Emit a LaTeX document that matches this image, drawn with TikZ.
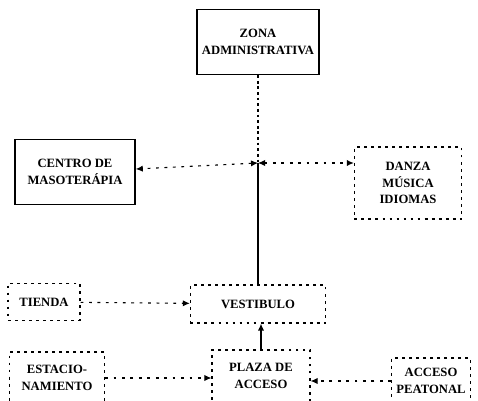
\documentclass[tikz,border=0pt]{standalone}
\usepackage{fontspec}
\setmainfont{Liberation Serif}
\usetikzlibrary{arrows.meta}
\begin{document}
\begin{tikzpicture}[x=0.025cm, y=-0.025cm, >={Latex[length=5pt,width=4.5pt]},
  every node/.style={font=\fontsize{9}{12}\selectfont\bfseries, align=center},
  solbox/.style={draw, line width=1.1pt},
  dotbox/.style={draw, line width=0.8pt, dash pattern=on 2pt off 3pt},
  arr/.style={->, line width=0.9pt},
  darr/.style={->, line width=0.8pt, dash pattern=on 2pt off 4pt}]
  \useasboundingbox (0,0) rectangle (478,400);
  \node[solbox,minimum width=3.05cm,minimum height=1.62cm] (zona) at (258,42) {ZONA\\ADMINISTRATIVA};
  \node[solbox,minimum width=3.0cm,minimum height=1.62cm] (centro) at (75,172) {CENTRO DE\\MASOTERÁPIA};
  \node[dotbox,minimum width=2.68cm,minimum height=1.8cm] (danza) at (408,183) {DANZA\\MÚSICA\\IDIOMAS};
  \node[dotbox,minimum width=1.8cm,minimum height=0.92cm] (tienda) at (44,302) {TIENDA};
  \node[dotbox,minimum width=3.38cm,minimum height=0.95cm] (vest) at (258,304) {VESTIBULO};
  \node[dotbox,minimum width=2.38cm,minimum height=1.3cm] (estac) at (57,378) {ESTACIO-\\NAMIENTO};
  \node[dotbox,minimum width=2.45cm,minimum height=1.3cm] (plaza) at (261,376) {PLAZA DE\\ACCESO};
  \node[dotbox,minimum width=1.95cm,minimum height=1.15cm] (acceso) at (431,381) {ACCESO\\PEATONAL};
  \coordinate (cruce) at (zona.south |- 0,163);
  % Flow steps
  \draw[line width=0.8pt, dash pattern=on 2pt off 2pt] (zona) -- (cruce);
  \draw[line width=0.8pt] (cruce) -- (cruce |- vest.north);
  \draw[darr,<->] (cruce) -- (centro);
  \draw[darr,<->] (cruce) -- (cruce -| danza.west);
  \draw[arr] (plaza) -- (plaza |- vest.south);
  \draw[darr] (tienda) -- (vest);
  \draw[darr] (estac) -- (estac -| plaza.west);
  \draw[darr] (acceso) -- (acceso -| plaza.east);
\end{tikzpicture}
\end{document}
